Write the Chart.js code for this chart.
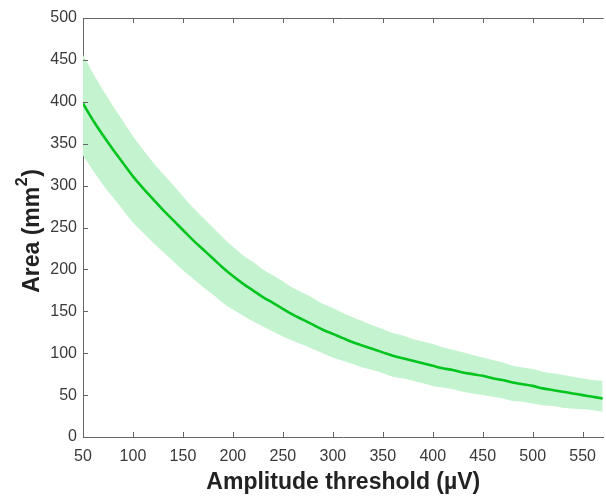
<!DOCTYPE html>
<html>
<head>
<meta charset="utf-8">
<script src="https://cdn.jsdelivr.net/npm/chart.js@4"></script>
<style>
  html, body { margin: 0; padding: 0; background: #fff; }
  #wrap { width: 606px; height: 496px; }
</style>
</head>
<body>
<div id="wrap"><canvas id="c" width="606" height="496"></canvas></div>
<script>
const thresholds = [50,60,70,80,90,100,110,120,130,140,150,160,170,180,190,200,210,220,230,240,250,260,270,280,290,300,310,320,330,340,350,360,370,380,390,400,410,420,430,440,450,460,470,480,490,500,510,520,530,540,550,560,570];
const areaMean  = [398,378,360,343,327,311,297,284,271,259,247,235,224,213,202,192,183,175,167,160,153,146,140,134,128,123,118,113,109,105,101,97,94,91,88,85,82,80,77,75,73,70,68,65,63,61,58,56,54,52,50,48,46];
const areaUpper = [456,434,414,395,377,359,343,328,314,301,287,274,262,250,238,227,217,209,200,193,186,178,172,166,159,154,148,143,138,133,129,124,121,117,114,111,107,104,101,98,95,92,89,85,83,81,78,76,74,72,70,68,67];
const areaLower = [336,318,301,286,271,256,244,232,221,210,199,189,179,170,160,152,145,138,132,126,120,115,110,105,100,95,91,87,83,80,76,72,70,67,64,61,59,57,54,52,50,48,46,43,42,40,38,37,35,34,33,32,30];
const xTickValues = [50,100,150,200,250,300,350,400,450,500,550];
const yTickValues = [0,50,100,150,200,250,300,350,400,450,500];

const toPts = arr => thresholds.map((x, i) => ({x: x, y: arr[i]}));
const axisColor = '#666666';
const FAM = 'Liberation Sans, Arial, sans-serif';
const tickFont = {family: FAM, size: 16};

const frame = {
  id: 'frame',
  afterDraw(chart) {
    const {ctx, chartArea: a, scales} = chart;
    ctx.save();
    ctx.strokeStyle = axisColor;
    ctx.lineWidth = 1;
    ctx.beginPath();
    ctx.moveTo(a.left, a.top + 0.5);
    ctx.lineTo(a.right, a.top + 0.5);
    const len = 5;
    xTickValues.forEach(v => {
      const px = Math.round(scales.x.getPixelForValue(v)) + 0.5;
      if (v !== 50) {
        ctx.moveTo(px, a.bottom); ctx.lineTo(px, a.bottom - len);
        ctx.moveTo(px, a.top); ctx.lineTo(px, a.top + len);
      }
    });
    yTickValues.forEach(v => {
      const py = Math.round(scales.y.getPixelForValue(v)) + 0.5;
      if (v !== 0 && v !== 500) { ctx.moveTo(a.left, py); ctx.lineTo(a.left + len, py); }
    });
    ctx.stroke();

    // y-axis title with superscript
    const main = 'Area (mm', sup = '2', tail = ')';
    const big = 'bold 23px ' + FAM, small = 'bold 16px ' + FAM;
    ctx.font = big; const w1 = ctx.measureText(main).width, w3 = ctx.measureText(tail).width;
    ctx.font = small; const w2 = ctx.measureText(sup).width;
    const total = w1 + w2 + w3;
    const cy = (a.top + a.bottom) / 2 + 4;
    ctx.translate(39, cy);
    ctx.rotate(-Math.PI / 2);
    ctx.fillStyle = '#222';
    ctx.textBaseline = 'alphabetic';
    ctx.textAlign = 'left';
    let x0 = -total / 2;
    ctx.font = big; ctx.fillText(main, x0, 0);
    ctx.font = small; ctx.fillText(sup, x0 + w1 + 0.5, -12);
    ctx.font = big; ctx.fillText(tail, x0 + w1 + w2 + 1, 0);
    ctx.restore();
  }
};

new Chart(document.getElementById('c'), {
  type: 'line',
  data: {
    datasets: [
      { label: 'upper', data: toPts(areaUpper), borderWidth: 0, pointRadius: 0,
        backgroundColor: 'rgb(196,243,208)', fill: '+1', order: 2, cubicInterpolationMode: 'monotone' },
      { label: 'lower', data: toPts(areaLower), borderWidth: 0, pointRadius: 0,
        backgroundColor: 'rgb(196,243,208)', fill: false, order: 2, cubicInterpolationMode: 'monotone' },
      { label: 'mean', data: toPts(areaMean), borderColor: '#00c41e', borderWidth: 2.6,
        pointRadius: 0, fill: false, order: 1, cubicInterpolationMode: 'monotone' }
    ]
  },
  options: {
    responsive: false,
    animation: false,
    devicePixelRatio: 1,
    layout: { padding: { left: 0, right: 0, top: 18, bottom: 0 } },
    plugins: { legend: { display: false }, tooltip: { enabled: false } },
    scales: {
      x: {
        type: 'linear', min: 50, max: 571,
        afterBuildTicks: s => { s.ticks = xTickValues.map(v => ({value: v})); },
        afterFit: s => { s.height = 59; },
        grid: { display: true, drawOnChartArea: false, drawTicks: false },
        border: { display: true, color: axisColor, width: 1 },
        ticks: { color: '#3a3a3a', font: tickFont, padding: 10, maxRotation: 0, autoSkip: false },
        title: { display: true, text: 'Amplitude threshold (µV)', color: '#222',
          font: { family: FAM, size: 23, weight: 'bold' },
          padding: { top: 0, bottom: 0 } }
      },
      y: {
        type: 'linear', min: 0, max: 500,
        afterBuildTicks: s => { s.ticks = yTickValues.map(v => ({value: v})); },
        afterFit: s => { s.width = 83; },
        grid: { display: true, drawOnChartArea: false, drawTicks: false },
        border: { display: true, color: axisColor, width: 1 },
        ticks: { color: '#3a3a3a', font: tickFont, padding: 6, autoSkip: false },
        title: { display: false }
      }
    }
  },
  plugins: [frame]
});
</script>
</body>
</html>
